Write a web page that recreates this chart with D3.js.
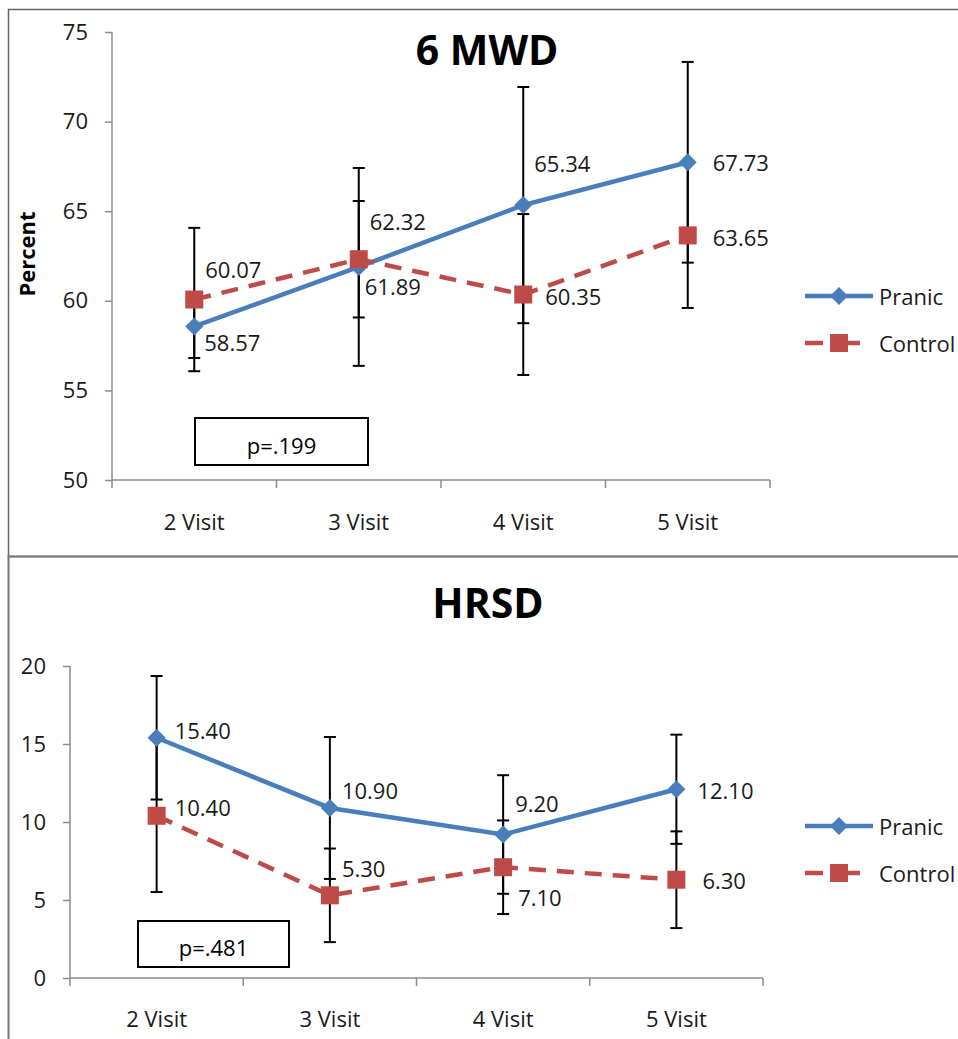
<!DOCTYPE html>
<html>
<head>
<meta charset="utf-8">
<script src="https://cdn.jsdelivr.net/npm/d3@7"></script>
<style>
  body { margin: 0; background: #fff; }
  svg { display: block; font-family: "Open Sans", sans-serif; }
</style>
</head>
<body>
<svg id="chart" width="958" height="1039"></svg>
<script>
// categories shared by both charts
var visits = ["2 Visit", "3 Visit", "4 Visit", "5 Visit"];
var seriesNames = ["Pranic", "Control"];

// 6 MWD values and error amounts
var mwdPranic = [58.57, 61.89, 65.34, 67.73];
var mwdControl = [60.07, 62.32, 60.35, 63.65];
var mwdPranicErr = [1.76, 5.52, 6.59, 5.60];
var mwdControlErr = [4.00, 3.25, 4.49, 4.05];
var mwdTicks = [50, 55, 60, 65, 70, 75];

// HRSD values and error amounts
var hrsdPranic = [15.40, 10.90, 9.20, 12.10];
var hrsdControl = [10.40, 5.30, 7.10, 6.30];
var hrsdPranicErr = [3.96, 4.55, 3.80, 3.50];
var hrsdControlErr = [4.89, 3.00, 3.00, 3.10];
var hrsdTicks = [0, 5, 10, 15, 20];

var blue = "#4a7ebb", red = "#be4b48";
var fs = 22;
var svg = d3.select("#chart");

// panel frames
svg.append("rect").attr("x", 8.5).attr("y", 9.5).attr("width", 980).attr("height", 547)
  .attr("fill", "none").attr("stroke", "#666").attr("stroke-width", 1.5);
svg.append("rect").attr("x", 8.5).attr("y", 556.5).attr("width", 980).attr("height", 520)
  .attr("fill", "none").attr("stroke", "#777").attr("stroke-width", 2);

function drawChart(opt) {
  var g = svg.append("g");
  var x = d3.scaleBand().domain(visits).range([opt.left, opt.right]);
  var y = d3.scaleLinear().domain(opt.domain).range([opt.bottom, opt.top]);

  // y axis
  var ya = g.append("g").attr("transform", "translate(" + opt.left + ",0)")
    .call(d3.axisLeft(y).tickValues(opt.ticks).tickSize(7).tickPadding(17));
  ya.select(".domain").attr("stroke", "#8c8c8c").attr("stroke-width", 1.5).attr("d", "M0," + opt.bottom + "V" + opt.top);
  ya.selectAll(".tick line").attr("stroke", "#8c8c8c").attr("stroke-width", 1.5);
  ya.selectAll(".tick text").attr("font-size", fs).attr("fill", "#1a1a1a")
    .attr("font-family", "Open Sans");

  // x axis: ticks at band edges
  var xa = g.append("g").attr("transform", "translate(0," + opt.bottom + ")");
  xa.append("line").attr("x1", opt.left).attr("x2", opt.right)
    .attr("stroke", "#8c8c8c").attr("stroke-width", 1.5);
  var edges = visits.map(function(v) { return x(v); }).concat([opt.right]);
  xa.selectAll(".edge").data(edges).enter().append("line")
    .attr("x1", function(d) { return d; }).attr("x2", function(d) { return d; })
    .attr("y1", 0).attr("y2", 8).attr("stroke", "#8c8c8c").attr("stroke-width", 1.5);
  xa.selectAll(".lab").data(visits).enter().append("text")
    .attr("x", function(d) { return x(d) + x.bandwidth() / 2; })
    .attr("y", opt.xLabelY - opt.bottom)
    .attr("text-anchor", "middle").attr("font-size", fs).attr("fill", "#1a1a1a")
    .text(function(d) { return d; });

  var cx = function(d, i) { return x(visits[i]) + x.bandwidth() / 2; };
  var series = [
    { name: "Pranic", vals: opt.pranic, err: opt.pranicErr, color: blue, dash: null, off: opt.pranicOff },
    { name: "Control", vals: opt.control, err: opt.controlErr, color: red, dash: "17,11", off: opt.controlOff }
  ];

  // error bars
  series.forEach(function(s) {
    var eb = g.append("g");
    s.vals.forEach(function(v, i) {
      var px = cx(v, i), hi = y(v + s.err[i]), lo = y(v - s.err[i]);
      eb.append("line").attr("x1", px).attr("x2", px).attr("y1", hi).attr("y2", lo)
        .attr("stroke", "#000").attr("stroke-width", 2);
      [hi, lo].forEach(function(yy) {
        eb.append("line").attr("x1", px - 6).attr("x2", px + 6).attr("y1", yy).attr("y2", yy)
          .attr("stroke", "#000").attr("stroke-width", 2);
      });
    });
  });

  // lines
  series.forEach(function(s) {
    var line = d3.line().x(cx).y(function(d) { return y(d); });
    g.append("path").datum(s.vals).attr("d", line).attr("fill", "none")
      .attr("stroke", s.color).attr("stroke-width", 4.5)
      .attr("stroke-dasharray", s.dash);
  });

  // markers
  var pr = series[0], co = series[1];
  g.selectAll(".dia").data(pr.vals).enter().append("path")
    .attr("transform", function(d, i) { return "translate(" + cx(d, i) + "," + y(d) + ")"; })
    .attr("d", "M0,-9L9,0L0,9L-9,0Z").attr("fill", blue);
  g.selectAll(".sq").data(co.vals).enter().append("rect")
    .attr("x", function(d, i) { return cx(d, i) - 9; })
    .attr("y", function(d) { return y(d) - 9; })
    .attr("width", 18).attr("height", 18).attr("fill", red);

  // data labels
  series.forEach(function(s) {
    g.selectAll(".lbl-" + s.name).data(s.vals).enter().append("text")
      .attr("x", function(d, i) { return cx(d, i) + s.off[i][0]; })
      .attr("y", function(d, i) { return y(d) + s.off[i][1]; })
      .attr("dominant-baseline", "central")
      .attr("font-size", fs).attr("fill", "#1a1a1a")
      .text(function(d) { return d.toFixed(2); });
  });

  // title
  g.append("text").attr("x", opt.titleX).attr("y", opt.titleY)
    .attr("text-anchor", "middle").attr("font-size", 41).attr("font-weight", "bold")
    .text(opt.title);

  // p-value box
  g.append("rect").attr("x", opt.pBox[0]).attr("y", opt.pBox[1])
    .attr("width", opt.pBox[2]).attr("height", opt.pBox[3])
    .attr("fill", "#fff").attr("stroke", "#000").attr("stroke-width", 2);
  g.append("text").attr("x", opt.pBox[0] + opt.pBox[2] / 2).attr("y", opt.pBox[1] + opt.pBox[3] / 2 + 3)
    .attr("text-anchor", "middle").attr("dominant-baseline", "central")
    .attr("font-size", fs).text(opt.pText);

  // legend
  var lg = g.append("g").attr("transform", "translate(805," + opt.legendY + ")");
  lg.append("line").attr("x1", 0).attr("x2", 68).attr("y1", 0).attr("y2", 0)
    .attr("stroke", blue).attr("stroke-width", 4.5);
  lg.append("path").attr("d", "M34,-9L43,0L34,9L25,0Z").attr("fill", blue);
  lg.append("line").attr("x1", 0).attr("x2", 55).attr("y1", 47).attr("y2", 47)
    .attr("stroke", red).attr("stroke-width", 4.5).attr("stroke-dasharray", "18,25,12");
  lg.append("rect").attr("x", 25).attr("y", 38).attr("width", 18).attr("height", 18).attr("fill", red);
  lg.selectAll(".lt").data(seriesNames).enter().append("text")
    .attr("x", 74).attr("y", function(d, i) { return i * 47; })
    .attr("dominant-baseline", "central").attr("font-size", fs).attr("fill", "#1a1a1a")
    .text(function(d) { return d; });
}

drawChart({
  title: "6 MWD", titleX: 487, titleY: 65,
  left: 112, right: 770, top: 32, bottom: 480, domain: [50, 75], ticks: mwdTicks,
  xLabelY: 530,
  pranic: mwdPranic, control: mwdControl, pranicOff: [[10, 16], [6, 19], [11, -42], [25, 0]],
  pranicErr: mwdPranicErr, controlErr: mwdControlErr,
  controlOff: [[11, -31], [11, -38], [22, 1], [25, 2]],
  pBox: [195, 418, 173, 47], pText: "p=.199",
  legendY: 296
});

// y axis title for the top chart
svg.append("text").attr("transform", "translate(35,254) rotate(-90)")
  .attr("text-anchor", "middle").attr("font-size", 22).attr("font-weight", "bold")
  .text("Percent");

drawChart({
  title: "HRSD", titleX: 488, titleY: 618,
  left: 70, right: 763, top: 666, bottom: 978, domain: [0, 20], ticks: hrsdTicks,
  xLabelY: 1027,
  pranic: hrsdPranic, control: hrsdControl, pranicErr: hrsdPranicErr, controlErr: hrsdControlErr,
  pranicOff: [[18, -8], [12, -18], [12, -31], [21, 1]],
  controlOff: [[18, -9], [12, -27], [15, 30], [26, 0]],
  pBox: [138, 921, 151, 46], pText: "p=.481",
  legendY: 826
});
</script>
</body>
</html>
